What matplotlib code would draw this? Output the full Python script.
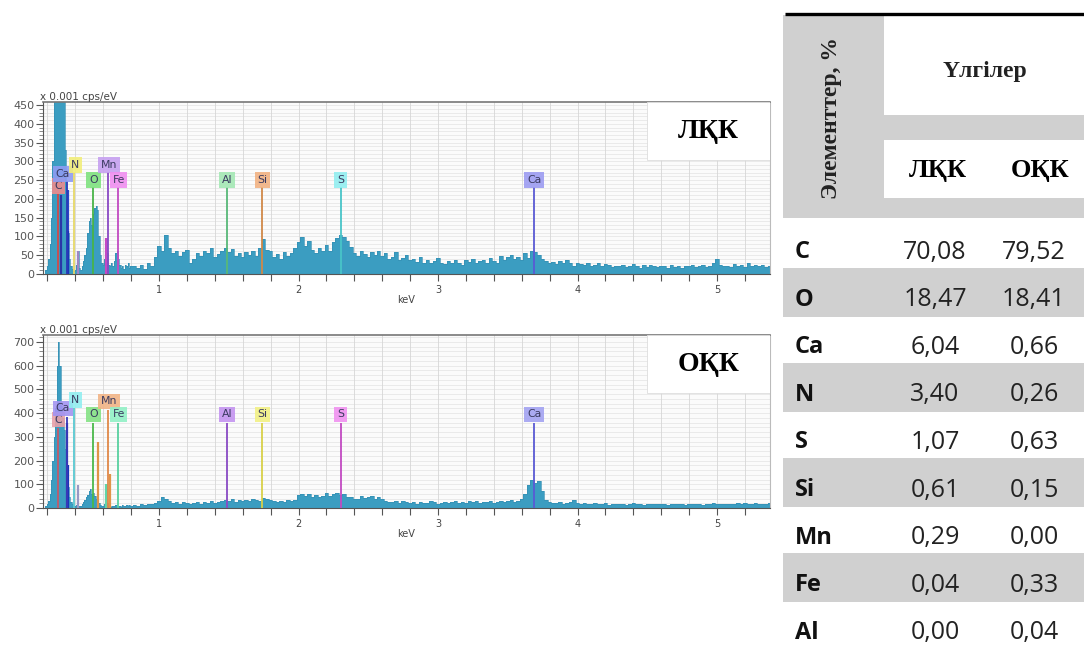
import numpy as np
import matplotlib.pyplot as plt
from matplotlib.patches import Rectangle
from matplotlib.ticker import FixedLocator, MultipleLocator, FuncFormatter

# --- EDS spectra (x 0.001 cps/eV) ---
# 0.18 .. 0.80 keV, step 0.01
lkk_low = [5, 10, 20, 40, 80, 150, 300, 520, 600, 650,
           640, 600, 560, 500, 470, 330, 200, 110, 40, 20,
           12, 8, 10, 25, 60, 15, 10, 20, 35, 50,
           70, 110, 140, 150, 130, 160, 175, 180, 170, 100,
           50, 30, 25, 40, 95, 55, 25, 20, 30, 20,
           35, 55, 60, 40, 25, 15, 20, 12, 25, 20,
           30, 15, 20]
okk_low = [5, 8, 15, 30, 60, 120, 200, 300, 420, 600,
           700, 600, 430, 380, 330, 250, 150, 90, 45, 25,
           15, 10, 8, 12, 10, 8, 10, 15, 25, 35,
           45, 55, 70, 80, 60, 65, 50, 40, 30, 20,
           12, 10, 8, 15, 100, 20, 10, 8, 6, 10,
           8, 12, 6, 8, 10, 6, 12, 8, 10, 14,
           8, 12, 10]
# 0.825 .. 5.40 keV, step 0.025
lkk_high = [22, 15, 25, 12, 28, 20, 45, 75, 60, 105,
            70, 55, 62, 48, 58, 65, 30, 40, 55, 48,
            62, 55, 68, 45, 52, 60, 70, 58, 66, 48,
            55, 44, 58, 50, 62, 48, 70, 92, 65, 60,
            45, 52, 40, 58, 48, 55, 70, 85, 98, 75,
            88, 65, 55, 70, 62, 78, 60, 85, 95, 105,
            98, 88, 72, 55, 48, 60, 52, 45, 58, 50,
            62, 48, 55, 40, 45, 58, 38, 42, 50, 36,
            40, 32, 45, 30, 38, 28, 35, 42, 30, 26,
            34, 28, 38, 30, 25, 36, 32, 40, 28, 35,
            38, 30, 42, 35, 28, 48, 36, 44, 50, 40,
            45, 38, 55, 42, 60, 58, 50, 40, 35, 28,
            32, 26, 35, 30, 38, 28, 22, 30, 26, 24,
            28, 22, 25, 30, 20, 26, 24, 18, 22, 20,
            24, 18, 22, 26, 20, 17, 23, 19, 25, 21,
            18, 22, 20, 16, 24, 19, 21, 17, 22, 20,
            23, 18, 20, 25, 19, 22, 28, 40, 24, 20,
            22, 18, 26, 20, 24, 19, 28, 22, 25, 20,
            24, 18, 22, 26]
okk_high = [14, 10, 16, 12, 18, 15, 22, 30, 48, 40,
            28, 20, 24, 18, 26, 22, 15, 20, 24, 18,
            26, 22, 30, 20, 24, 28, 35, 30, 38, 26,
            32, 28, 35, 30, 38, 34, 30, 42, 36, 32,
            28, 24, 30, 26, 32, 28, 35, 55, 60, 50,
            58, 48, 55, 45, 52, 62, 50, 58, 65, 55,
            60, 48, 45, 40, 38, 50, 42, 48, 52, 40,
            45, 38, 30, 26, 24, 30, 22, 28, 25, 20,
            24, 18, 26, 22, 20, 28, 24, 18, 22, 26,
            20, 24, 30, 22, 26, 20, 28, 24, 30, 22,
            26, 24, 28, 22, 26, 30, 24, 28, 32, 26,
            30, 40, 60, 95, 120, 105, 115, 70, 35, 26,
            22, 20, 24, 18, 22, 26, 35, 20, 18, 22,
            18, 16, 22, 15, 18, 20, 14, 18, 16, 15,
            18, 14, 16, 20, 15, 17, 14, 18, 16, 15,
            17, 15, 18, 14, 16, 18, 15, 17, 14, 16,
            18, 15, 16, 14, 18, 16, 20, 17, 15, 18,
            16, 18, 15, 20, 17, 22, 18, 16, 19, 17,
            18, 16, 20, 17]

# element markers: label, energy of line, label centre, label height
lkk_el = ['C', 'Ca', 'N', 'O', 'Mn', 'Fe', 'Al', 'Si', 'S', 'Ca']
lkk_el_kev = [0.277, 0.341, 0.392, 0.525, 0.637, 0.705, 1.486, 1.739, 2.307, 3.690]
lkk_lab_kev = [0.28, 0.31, 0.40, 0.53, 0.64, 0.71, 1.487, 1.74, 2.30, 3.69]
lkk_lab_y = [234, 266, 290, 250, 290, 250, 250, 250, 250, 250]
lkk_box = ['#ee8c8c', '#8e9cf2', '#f2ee7a', '#7fe27f', '#c6a0f0', '#f08ef0',
           '#a4e8b4', '#f2b282', '#92eef0', '#9c9cf2']
lkk_line = ['#d04a4a', '#2a3ab8', '#e6d866', '#48b448', '#8a48c4', '#c24ac2',
            '#58b878', '#d08848', '#48c4c8', '#5a5ad4']

okk_el = ['C', 'Ca', 'N', 'O', 'Mn', 'Fe', 'Al', 'Si', 'S', 'Ca']
okk_el_kev = [0.277, 0.341, 0.392, 0.525, 0.637, 0.705, 1.486, 1.739, 2.307, 3.690]
okk_lab_kev = [0.28, 0.31, 0.40, 0.53, 0.64, 0.71, 1.487, 1.74, 2.30, 3.69]
okk_lab_y = [372, 420, 455, 395, 450, 395, 395, 395, 395, 395]
okk_box = ['#e8a0a8', '#a294f2', '#92eef0', '#84e284', '#f2b486', '#92f0c6',
           '#c494f0', '#f2f084', '#f092f0', '#a2a2f2']
okk_line = ['#c05a6a', '#3a3ab8', '#58c8d0', '#4ab84a', '#e08848', '#58d0a0',
            '#8a4ac4', '#d8d048', '#c24ac2', '#5a5ad4']

# coloured fit spikes under the markers: energy, height, colour
lkk_spk_kev = [0.30, 0.345, 0.35, 0.42, 0.62]
lkk_spk_h = [210, 225, 115, 60, 95]
lkk_spk_c = ['#2a36a8', '#2a46c8', '#1a36b8', '#a086c4', '#c44ac4']
okk_spk_kev = [0.338, 0.35, 0.42, 0.565, 0.62, 0.645]
okk_spk_h = [360, 180, 95, 280, 100, 145]
okk_spk_c = ['#2a36a8', '#1a36b8', '#9898c4', '#e09448', '#62d4a6', '#e09448']

# composition table (%)
tbl_el = ['C', 'O', 'Ca', 'N', 'S', 'Si', 'Mn', 'Fe', 'Al']
tbl_lkk = ['70,08', '18,47', '6,04', '3,40', '1,07', '0,61', '0,29', '0,04', '0,00']
tbl_okk = ['79,52', '18,41', '0,66', '0,26', '0,63', '0,15', '0,00', '0,33', '0,04']

W, H = 1084, 647
fig = plt.figure(figsize=(W / 100, H / 100), dpi=100)
fig.patch.set_facecolor('white')

e_low = np.round(0.18 + 0.01 * np.arange(len(lkk_low)), 3)
e_high = np.round(0.825 + 0.025 * np.arange(len(lkk_high)), 3)
energy = np.concatenate([e_low, e_high])


def draw_spectrum(ax, counts, ymax, ymaj, ymin, sample, el, el_kev, lab_kev, lab_y,
                  box_c, line_c, spk_kev, spk_h, spk_c, line_drop):
    ax.set_facecolor('#fbfbfb')
    ax.set_xlim(0.168, 5.38)
    ax.set_ylim(0, ymax)
    # grid
    for yy in np.arange(0, ymax, ymin):
        ax.axhline(yy, color='#e4e4e4', lw=0.5, zorder=0)
    for xx in np.arange(0.2, 5.4, 0.2):
        ax.axvline(xx, color='#d6d6d6', lw=0.6, zorder=0)
    ax.fill_between(energy, counts, step='mid', color='#3b9dc1', lw=0, zorder=2)
    ax.step(energy, counts, where='mid', color='#3590b4', lw=0.5, zorder=2)
    ax.vlines(spk_kev, 0, spk_h, colors=spk_c, lw=1.6, zorder=3)
    for name, ek, lk, ly, bc, lc in zip(el, el_kev, lab_kev, lab_y, box_c, line_c):
        ax.vlines(ek, 0, ly - line_drop, colors=lc, lw=1.3, zorder=3)
        ax.text(lk, ly, name, ha='center', va='center', fontsize=7.8, color='#3a3a60',
                zorder=5, bbox=dict(boxstyle='square,pad=0.25', fc=bc, ec='none', alpha=0.9))
    # sample name box
    ax.add_patch(Rectangle((0.831, 0.665), 0.169, 0.335, transform=ax.transAxes,
                           fc='white', ec='#dddddd', lw=0.6, zorder=6))
    ax.text(0.9155, 0.83, sample, transform=ax.transAxes, ha='center', va='center',
            fontsize=20, fontweight='bold', family='Liberation Serif', zorder=7)
    ax.text(-0.004, 1.0, 'x 0.001 cps/eV', transform=ax.transAxes, ha='left', va='bottom',
            fontsize=7.5, color='#444444')
    # axes styling
    ax.yaxis.set_major_locator(MultipleLocator(ymaj))
    ax.yaxis.set_minor_locator(MultipleLocator(ymin))
    ax.xaxis.set_major_locator(FixedLocator(np.round(np.arange(0.2, 5.4, 0.2), 1)))
    ax.xaxis.set_major_formatter(FuncFormatter(
        lambda v, p: str(int(round(v))) if abs(v - round(v)) < 1e-6 else ''))
    ax.tick_params(axis='y', which='major', length=5, color='#555555', labelsize=8,
                   labelcolor='#555555', pad=1)
    ax.tick_params(axis='y', which='minor', length=3, color='#777777')
    ax.tick_params(axis='x', which='major', length=5, color='#555555', labelsize=7,
                   labelcolor='#444444', pad=3)
    ax.set_xlabel('keV', fontsize=7, color='#444444', labelpad=0)
    for s in ['left', 'bottom']:
        ax.spines[s].set_color('#555555')
    ax.spines['top'].set_color('#777777')
    ax.spines['top'].set_linewidth(1.2)
    ax.spines['right'].set_color('#bbbbbb')


ax1 = fig.add_axes([43 / W, 1 - 274 / H, 727 / W, 172 / H])
draw_spectrum(ax1, np.concatenate([lkk_low, lkk_high]), 458, 50, 10, 'ЛҚК',
              lkk_el, lkk_el_kev, lkk_lab_kev, lkk_lab_y, lkk_box, lkk_line,
              lkk_spk_kev, lkk_spk_h, lkk_spk_c, 18)

ax2 = fig.add_axes([43 / W, 1 - 508 / H, 727 / W, 173 / H])
draw_spectrum(ax2, np.concatenate([okk_low, okk_high]), 729, 100, 20, 'ОҚК',
              okk_el, okk_el_kev, okk_lab_kev, okk_lab_y, okk_box, okk_line,
              okk_spk_kev, okk_spk_h, okk_spk_c, 35)

# --- table on the right, drawn in pixel coordinates ---
tab = fig.add_axes([0, 0, 1, 1])
tab.set_xlim(0, W)
tab.set_ylim(H, 0)
tab.axis('off')
gray = '#d0d0d0'
serif = 'Liberation Serif'

tab.add_patch(Rectangle((783, 15), 101, 203, fc=gray, ec='none'))
tab.add_patch(Rectangle((884, 115), 200, 25, fc=gray, ec='none'))
tab.add_patch(Rectangle((884, 198), 200, 20, fc=gray, ec='none'))
tab.plot([785, W], [13.5, 13.5], color='black', lw=2.4, solid_capstyle='butt')

tab.text(832, 118, 'Элементтер, %', rotation=90, ha='center', va='center',
         fontsize=17, fontweight='bold', family=serif, color='#222222')
tab.text(985, 71, 'Үлгілер', ha='center', va='center', fontsize=17,
         fontweight='bold', family=serif, color='#222222')
tab.text(938, 170, 'ЛҚК', ha='center', va='center', fontsize=19,
         fontweight='bold', family=serif)
tab.text(1040, 170, 'ОҚК', ha='center', va='center', fontsize=19,
         fontweight='bold', family=serif)

row_h = 47.6
for i, (el, a, b) in enumerate(zip(tbl_el, tbl_lkk, tbl_okk)):
    yc = 252 + i * row_h
    if i % 2 == 1:
        tab.add_patch(Rectangle((783, yc - 32), W - 783, 49, fc=gray, ec='none'))
    tab.text(795, yc, el, ha='left', va='center', fontsize=17, fontweight='bold',
             family='Open Sans', color='#111111')
    tab.text(935, yc, a, ha='center', va='center', fontsize=18, family='Open Sans',
             color='#222222')
    tab.text(1034, yc, b, ha='center', va='center', fontsize=18, family='Open Sans',
             color='#222222')

fig.savefig('out.png', dpi=100)
